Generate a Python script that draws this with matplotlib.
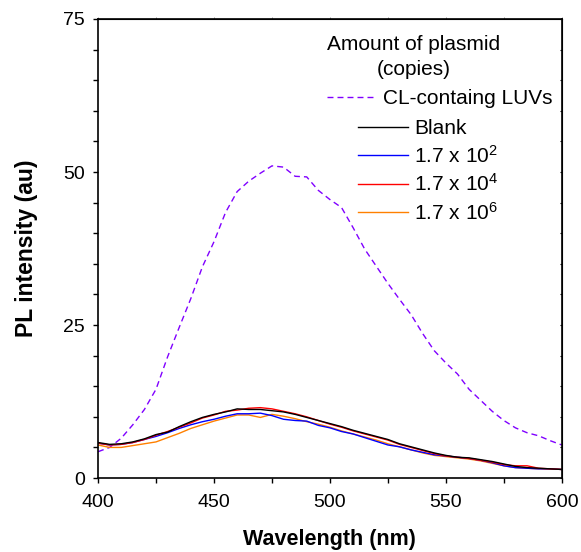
import matplotlib.pyplot as plt
import numpy as np
from matplotlib.ticker import MultipleLocator

plt.rcParams['font.family'] = ['Liberation Sans', 'DejaVu Sans']
plt.rcParams['mathtext.fontset'] = 'custom'
plt.rcParams['mathtext.rm'] = 'Liberation Sans'
plt.rcParams['mathtext.it'] = 'Liberation Sans'

# Wavelength grid (nm)
wavelength = np.arange(400, 601, 5)

# PL intensity (au)
luvs = [4.3, 5.0, 6.5, 8.7, 11.2, 14.5, 19.8, 24.6, 29.3, 34.5, 38.6,
        43.4, 46.8, 48.5, 49.8, 51.0, 50.8, 49.3, 49.2, 47.0, 45.5,
        44.2, 40.9, 37.4, 34.6, 31.8, 29.2, 26.7, 23.6, 20.8, 18.8,
        17.0, 14.5, 12.7, 10.9, 9.4, 8.2, 7.4, 6.9, 6.1, 5.4]
blank = [5.8, 5.5, 5.6, 5.9, 6.4, 7.1, 7.5, 8.4, 9.2, 9.9, 10.4,
         10.8, 11.3, 11.2, 11.2, 11.0, 10.8, 10.4, 9.9, 9.4, 8.9,
         8.4, 7.8, 7.3, 6.8, 6.3, 5.6, 5.1, 4.6, 4.1, 3.7,
         3.4, 3.3, 3.0, 2.7, 2.3, 1.9, 1.7, 1.6, 1.5, 1.4]
copies_1e2 = [5.7, 5.4, 5.5, 5.8, 6.3, 6.8, 7.4, 8.1, 8.7, 9.2, 9.6,
              10.1, 10.5, 10.5, 10.6, 10.2, 9.6, 9.4, 9.3, 8.6, 8.2,
              7.6, 7.2, 6.6, 6.0, 5.4, 5.1, 4.6, 4.2, 3.8, 3.6,
              3.4, 3.2, 2.9, 2.5, 2.0, 1.7, 1.6, 1.5, 1.5, 1.4]
copies_1e4 = [5.7, 5.4, 5.5, 5.8, 6.3, 7.0, 7.6, 8.3, 9.0, 9.8, 10.3,
              10.9, 11.1, 11.4, 11.5, 11.3, 10.9, 10.5, 10.0, 9.4, 8.8,
              8.3, 7.7, 7.2, 6.7, 6.2, 5.5, 5.0, 4.5, 4.0, 3.6,
              3.4, 3.2, 2.9, 2.6, 2.2, 2.0, 2.0, 1.6, 1.5, 1.4]
copies_1e6 = [5.4, 5.0, 5.0, 5.3, 5.6, 5.9, 6.6, 7.3, 8.1, 8.7, 9.3,
              9.8, 10.3, 10.3, 9.9, 10.4, 10.1, 9.7, 9.2, 8.8, 8.3,
              7.7, 7.2, 6.7, 6.2, 5.6, 5.1, 4.6, 4.1, 3.7, 3.5,
              3.3, 3.1, 2.8, 2.4, 2.0, 1.7, 1.6, 1.5, 1.5, 1.4]

labels = ['Blank', r'1.7 x 10$^{2}$', r'1.7 x 10$^{4}$', r'1.7 x 10$^{6}$']

fig = plt.figure(figsize=(5.81, 5.52), dpi=100)
ax = fig.add_axes([0.1687, 0.134, 0.7983, 0.8316])

dashed, = ax.plot(wavelength, luvs, color='#8000FF', lw=1.0,
                  dashes=(4.3, 2.9), label='CL-containg LUVs')
l_orange, = ax.plot(wavelength, copies_1e6, color='#FF8000', lw=1.0)
l_blue, = ax.plot(wavelength, copies_1e2, color='#0000FF', lw=1.0)
l_red, = ax.plot(wavelength, copies_1e4, color='#FF0000', lw=1.0)
l_black, = ax.plot(wavelength, blank, color='black', lw=1.0)

ax.set_xlim(400, 600)
ax.set_ylim(0, 75)
ax.xaxis.set_major_locator(MultipleLocator(50))
ax.xaxis.set_minor_locator(MultipleLocator(25))
ax.yaxis.set_major_locator(MultipleLocator(25))
ax.yaxis.set_minor_locator(MultipleLocator(5))
ax.tick_params(axis='both', which='both', direction='out', length=3.3,
               width=1, labelsize=14)
ax.tick_params(axis='x', pad=8)
ax.tick_params(axis='y', pad=6)
for s in ax.spines.values():
    s.set_linewidth(1.2)

# tiny ticks on top and right
top = ax.secondary_xaxis('top')
top.xaxis.set_major_locator(MultipleLocator(25))
top.tick_params(length=1.5, width=0.6, color='#888888', labeltop=False)
right = ax.secondary_yaxis('right')
right.yaxis.set_major_locator(MultipleLocator(5))
right.tick_params(direction='in', length=1.5, width=0.8, labelright=False)

ax.set_xlabel('Wavelength (nm)', fontsize=15.5, fontweight='bold', labelpad=13)
ax.set_ylabel('PL intensity (au)', fontsize=16.5, fontweight='bold', labelpad=18)

leg1 = ax.legend([dashed], ['CL-containg LUVs'],
                 title='Amount of plasmid\n(copies)', loc='upper left',
                 bbox_to_anchor=(0.4935, 0.965), frameon=False, fontsize=15,
                 title_fontsize=15, borderpad=0, borderaxespad=0,
                 handlelength=2.4, handletextpad=0.29, labelspacing=0.47,
                 alignment='left')
leg1.get_title().set_multialignment('center')
leg1.get_title().set_linespacing(1.4)
ax.add_artist(leg1)
ax.legend([l_black, l_blue, l_red, l_orange], labels, loc='upper left',
          bbox_to_anchor=(0.560, 0.782), frameon=False, fontsize=15,
          borderpad=0, borderaxespad=0, handlelength=2.4,
          handletextpad=0.29, labelspacing=0.32)

fig.savefig('out.png', dpi=100)
